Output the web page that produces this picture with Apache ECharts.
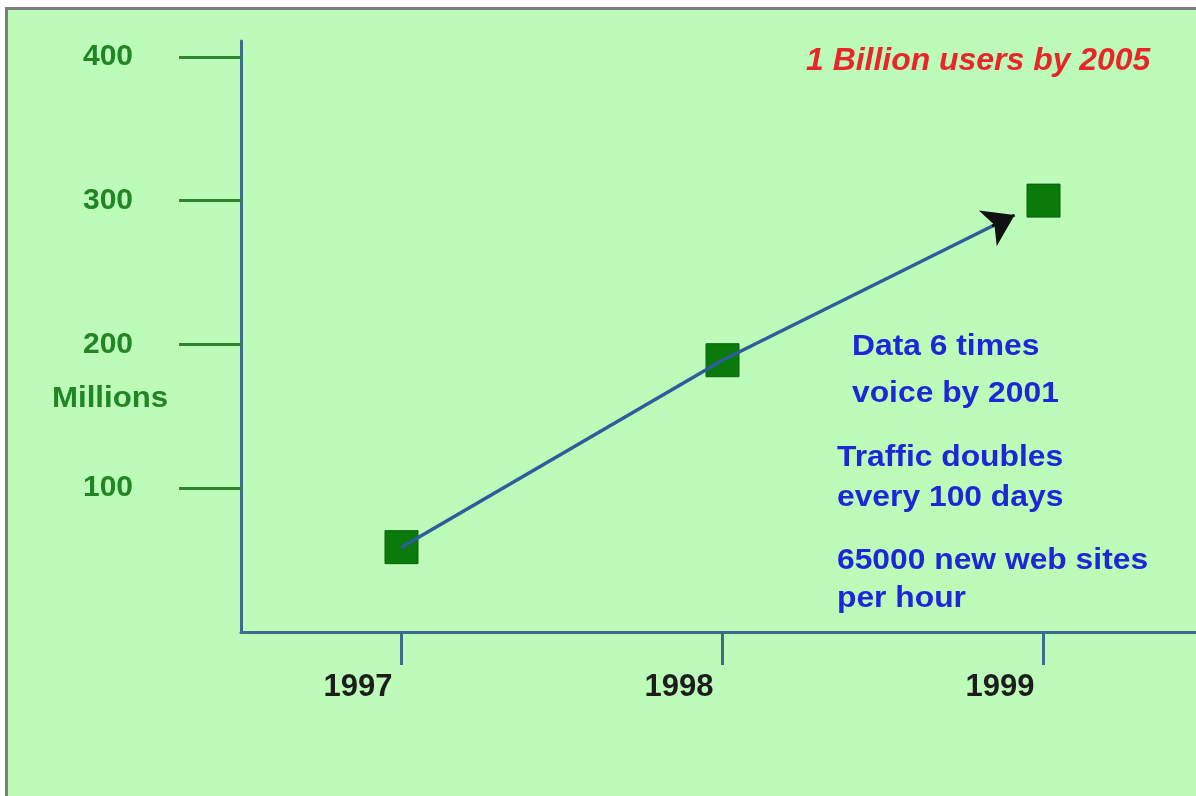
<!DOCTYPE html>
<html>
<head>
<meta charset="utf-8">
<script src="https://cdn.jsdelivr.net/npm/echarts@6/dist/echarts.min.js"></script>
<style>
  html, body { margin: 0; padding: 0; background: #ffffff; }
  #frame { position: absolute; left: 5px; top: 7px; right: 0; bottom: 0;
           border-top: 3px solid #7d7d7d; border-left: 3px solid #7d7d7d; background: #bcfcb8; }
  #chart { position: absolute; left: 0; top: 0; width: 1196px; height: 796px; }
</style>
</head>
<body>
<div id="frame"></div>
<div id="chart"></div>
<script>
// ---- data ----
const years = [1997, 1998, 1999];
const users = [59, 189, 300];          // millions
const yTickValues = [100, 200, 300, 400];
const headline = '1 Billion users by 2005';
const notes1 = ['Data 6 times', 'voice by 2001'];
const notes2 = ['Traffic doubles', 'every 100 days'];
const notes3 = ['65000 new web sites', 'per hour'];
const yAxisName = 'Millions';

// arrow of the trend line stops short of the last point
const arrowTipFrac = 0.91;
const arrowBaseFrac = 0.84;
function along(i, f) {
  return [years[i] + (years[i + 1] - years[i]) * f, users[i] + (users[i + 1] - users[i]) * f];
}
const last = years.length - 2;
const trendData = years.slice(0, -1).map((y, i) => [y, users[i]]).concat([along(last, arrowTipFrac - 0.03)]);
const arrowSeg = [along(last, arrowBaseFrac), along(last, arrowTipFrac)];

const FONT = "'Liberation Sans', Arial, sans-serif";
const BLUE = '#1c27da';
const chart = echarts.init(document.getElementById('chart'));
chart.setOption({
  backgroundColor: 'transparent',
  animation: false,
  grid: { left: 241, right: 0, top: 41, bottom: 164, containLabel: false },
  xAxis: {
    type: 'value', min: 1996.5, max: 1999.475,
    splitLine: { show: false },
    axisLine: { show: true, onZero: false, lineStyle: { color: '#3c6d8e', width: 3 } },
    axisTick: { show: true, customValues: years, length: 33, lineStyle: { color: '#3c6d8e', width: 3 } },
    axisLabel: { customValues: years, margin: 40, color: '#1c1c1c', fontFamily: FONT,
                 fontWeight: 'bold', fontSize: 31, align: 'right', padding: [0, 9, 0, 0],
                 formatter: v => String(v) }
  },
  yAxis: {
    type: 'value', min: 0, max: 411,
    splitLine: { show: false },
    axisLine: { show: true, onZero: false, lineStyle: { color: '#3c6d8e', width: 3 } },
    axisTick: { show: true, customValues: yTickValues, length: 62, lineStyle: { color: '#2f8534', width: 3 } },
    axisLabel: { customValues: yTickValues, margin: 108, color: '#218526', fontFamily: FONT,
                 fontWeight: 'bold', fontSize: 30 }
  },
  series: [
    {
      type: 'scatter', symbol: 'rect', symbolSize: 33, z: 2,
      itemStyle: { color: '#0a7a0a', borderColor: '#0b5f0b', borderWidth: 1, opacity: 1 },
      data: years.map((y, i) => [y, users[i]])
    },
    {
      type: 'line', z: 3, showSymbol: false, symbol: 'none',
      lineStyle: { color: '#2d5d9c', width: 3.5 },
      data: trendData
    },
    {
      type: 'lines', coordinateSystem: 'cartesian2d', z: 4,
      symbol: ['none', 'arrow'], symbolSize: [0, 30],
      lineStyle: { color: '#111111', width: 3, opacity: 1 },
      data: [{ coords: arrowSeg }]
    }
  ],
  graphic: [
    { type: 'text', x: 52, y: 384, scaleX: 1.04, style: { text: yAxisName, fill: '#218526', font: `bold 30px ${FONT}`, verticalAlign: 'top' } },
    { type: 'text', x: 806, y: 46, scaleX: 1.03, style: { text: headline, fill: '#e8262a', font: `italic bold 31px ${FONT}`, verticalAlign: 'top' } },
    { type: 'text', x: 852, y: 323, scaleX: 1.06, style: { text: notes1.join('\n'), fill: BLUE, font: `bold 30px ${FONT}`, lineHeight: 47, verticalAlign: 'top' } },
    { type: 'text', x: 837, y: 438, scaleX: 1.06, style: { text: notes2.join('\n'), fill: BLUE, font: `bold 30px ${FONT}`, lineHeight: 40, verticalAlign: 'top' } },
    { type: 'text', x: 837, y: 542, scaleX: 1.06, style: { text: notes3.join('\n'), fill: BLUE, font: `bold 30px ${FONT}`, lineHeight: 38, verticalAlign: 'top' } }
  ]
});
</script>
</body>
</html>
